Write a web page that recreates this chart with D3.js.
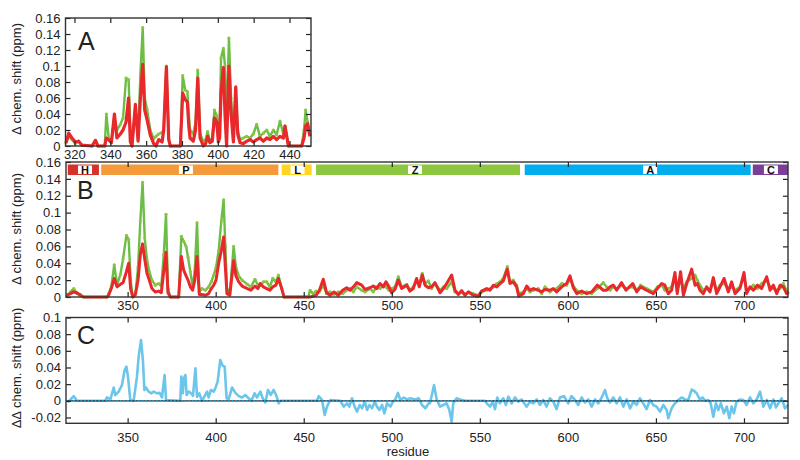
<!DOCTYPE html>
<html lang="en">
<head>
<meta charset="utf-8">
<title>Chemical shift perturbation</title>
<script src="https://cdn.jsdelivr.net/npm/d3@7"></script>
<style>
  body { margin: 0; background: #fff; }
  text { font-family: "Liberation Sans", Arial, Helvetica, sans-serif; fill: #222; }
  .axis path.domain { display: none; }
  .axis line { stroke: #222; stroke-width: 1.2; }
  .axis text { font-size: 13px; fill: #222; }
  .frame { fill: none; stroke: #333; stroke-width: 1.4; }
  .ylab { font-size: 13px; }
  .letter { font-size: 25px; }
  .dom-label { font-size: 11px; font-weight: bold; fill: #111; }
</style>
</head>
<body>
<script>

// ---------------- data ----------------

// panel A: residue, full construct (green), shorter construct (red)
var aRes = [315.3, 316.8, 318.6, 320.5, 322.3, 324.2, 329.8, 331.7, 333.1, 336.9, 337.8, 339.1, 340.6, 342.3, 343.7,
  345.6, 347.1, 348.8, 350.2, 351.2, 352.1, 354.0, 355.5, 356.8, 358.1, 359.2, 360.5, 362.3, 364.2, 365.5, 367.0,
  368.9, 369.8, 371.3, 372.6, 373.5, 379.1, 380.4, 381.8, 383.0, 383.8, 384.5, 386.3, 387.6, 388.8, 390.1, 391.9,
  393.2, 394.3, 395.6, 396.9, 398.1, 399.4, 400.3, 401.0, 401.8, 403.1, 404.0, 404.9, 406.2, 407.4, 408.7, 410.0,
  411.1, 412.4, 414.2, 416.1, 418.0, 419.8, 421.7, 423.5, 425.4, 427.3, 429.1, 431.0, 432.8, 434.7, 436.6, 437.5,
  439.4, 446.8, 448.1, 449.0, 450.1, 451.4];
var aGreen = [0.004, 0.012, 0.008, 0.003, 0.006, 0.001, 0, 0.007, 0, 0, 0.04, 0.01, 0.006, 0.035, 0.02,
  0.027, 0.035, 0.085, 0.083, 0.02, 0, 0.048, 0.01, 0.09, 0.148, 0.06, 0.046, 0.02, 0.009, 0.012, 0.015,
  0.017, 0.02, 0.1, 0.01, 0, 0, 0.088, 0.07, 0.068, 0.04, 0.02, 0.015, 0.03, 0.095, 0.015, 0.006,
  0.008, 0.018, 0.006, 0.01, 0.045, 0.038, 0.015, 0.02, 0.11, 0.122, 0.1, 0.02, 0.135, 0.06, 0.01, 0.07,
  0.02, 0.008, 0.01, 0.012, 0.01, 0.015, 0.027, 0.012, 0.016, 0.02, 0.012, 0.02, 0.014, 0.031, 0.015, 0.025,
  0, 0, 0.02, 0.045, 0.03, 0.015];
var aRed = [0.004, 0.016, 0.01, 0.005, 0.006, 0.001, 0, 0.007, 0, 0, 0.01, 0.008, 0.004, 0.04, 0.01,
  0.015, 0.02, 0.03, 0.06, 0.005, 0, 0.052, 0.006, 0.06, 0.102, 0.045, 0.033, 0.014, 0.003, 0, 0.008,
  0.005, 0.02, 0.099, 0.008, 0, 0, 0.066, 0.058, 0.055, 0.025, 0.01, 0.006, 0.02, 0.085, 0.01, 0,
  0.003, 0.012, 0.004, 0.006, 0.035, 0.03, 0.005, 0.01, 0.068, 0.098, 0.04, 0, 0.1, 0.04, 0.005, 0.074,
  0.015, 0.004, 0.003, 0.006, 0.008, 0.005, 0.008, 0.01, 0.006, 0.01, 0.008, 0.012, 0.008, 0.012, 0.01, 0.025,
  0, 0, 0.01, 0.025, 0.028, 0.012];

// panel B
var bRes = [315.4, 317.5, 319.4, 321.2, 323.1, 325.0, 338.3, 339.2, 340.7, 342.4, 344.0, 345.9, 347.4, 349.3, 350.6,
  351.7, 352.9, 354.4, 355.9, 357.2, 358.5, 359.7, 361.0, 362.3, 363.8, 365.7, 367.6, 369.1, 370.5, 371.8, 372.9,
  374.3, 379.0, 380.5, 381.8, 383.2, 384.3, 385.6, 386.9, 388.1, 389.4, 390.7, 392.2, 394.1, 396.0, 397.5, 398.9,
  400.2, 401.7, 403.2, 404.5, 405.5, 406.4, 408.0, 410.2, 411.5, 413.1, 415.0, 418.0, 420.0, 422.3, 424.0, 425.2,
  427.1, 429.0, 430.8, 432.4, 434.2, 435.6, 437.5, 438.8, 452.6, 453.6, 455.4, 457.0, 458.9, 461.1, 463.0, 464.9,
  467.2, 469.6, 472.1, 474.4, 476.3, 478.2, 480.1, 482.9, 484.8, 487.6, 489.5, 491.4, 493.3, 495.2, 496.7, 498.4,
  499.9, 501.8, 503.7, 505.6, 508.5, 510.3, 512.2, 514.1, 515.6, 517.3, 518.9, 520.8, 522.6, 524.5, 527.4, 529.3,
  531.2, 534.0, 535.9, 537.8, 539.7, 541.6, 543.5, 546.3, 549.2, 551.0, 553.9, 555.8, 557.7, 559.6, 561.5, 563.3,
  565.6, 567.1, 569.0, 570.9, 572.1, 574.7, 576.6, 578.5, 580.4, 583.2, 585.1, 587.0, 589.8, 591.7, 593.6, 596.5,
  599.3, 601.2, 603.1, 605.0, 607.8, 610.7, 613.5, 616.7, 620.1, 622.0, 623.9, 625.8, 627.7, 630.5, 633.0, 636.8,
  639.1, 641.3, 644.7, 648.5, 650.8, 653.3, 655.1, 657.0, 658.9, 660.8, 662.1, 664.0, 665.6, 667.5, 670.3, 672.2,
  673.5, 675.0, 676.9, 678.8, 680.7, 682.6, 684.5, 686.4, 688.7, 691.1, 693.0, 694.9, 697.7, 700.0, 701.5, 703.4,
  705.3, 707.6, 710.0, 712.9, 714.8, 716.7, 718.6, 720.5, 722.3, 724.2, 725.0];
var bGreen = [0.001, 0.006, 0.01, 0.004, 0.003, 0, 0, 0.004, 0.012, 0.038, 0.014, 0.027, 0.045, 0.073, 0.068,
  0.02, 0, 0.003, 0.035, 0.09, 0.136, 0.07, 0.044, 0.03, 0.02, 0.014, 0.016, 0.013, 0.05, 0.098, 0.01,
  0, 0, 0.072, 0.066, 0.06, 0.047, 0.03, 0.012, 0.03, 0.088, 0.006, 0.01, 0.008, 0.012, 0.018, 0.026,
  0.035, 0.055, 0.09, 0.115, 0.06, 0.01, 0.004, 0.06, 0.035, 0.025, 0.02, 0.015, 0.012, 0.021, 0.014, 0.014,
  0.018, 0.018, 0.012, 0.022, 0.018, 0.026, 0.01, 0, 0, 0.008, 0.004, 0.007, 0.006, 0.014, 0.004, 0.006,
  0.003, 0.006, 0.004, 0.008, 0.01, 0.006, 0.012, 0.008, 0.006, 0.01, 0.006, 0.012, 0.01, 0.014, 0.012, 0.008,
  0.01, 0.012, 0.024, 0.012, 0.015, 0.008, 0.012, 0.018, 0.015, 0.028, 0.016, 0.019, 0.01, 0.016, 0.008, 0.012,
  0.01, 0.018, 0.006, 0.004, 0.008, 0.003, 0.006, 0.004, 0.002, 0.006, 0.008, 0.01, 0.012, 0.016, 0.018, 0.022,
  0.036, 0.018, 0.02, 0.014, 0.004, 0.006, 0.01, 0.006, 0.008, 0.01, 0.004, 0.012, 0.006, 0.009, 0.01, 0.016,
  0.014, 0.021, 0.013, 0.008, 0.004, 0.006, 0.004, 0.01, 0.017, 0.012, 0.008, 0.012, 0.01, 0.014, 0.01, 0.012,
  0.008, 0.014, 0.01, 0.006, 0.012, 0.014, 0.008, 0.01, 0.012, 0.024, 0.008, 0.02, 0.01, 0.018, 0.022, 0.026,
  0.02, 0.014, 0.008, 0.01, 0.008, 0.018, 0.008, 0.014, 0.016, 0.01, 0.012, 0.008, 0.012, 0.024, 0.008, 0.01,
  0.014, 0.01, 0.016, 0.02, 0.012, 0.01, 0.008, 0.01, 0.016, 0.008, 0.005];
var bRed = [0.002, 0.004, 0.006, 0.005, 0.002, 0, 0, 0.002, 0.01, 0.022, 0.012, 0.015, 0.017, 0.03, 0.04,
  0.01, 0, 0.003, 0.02, 0.05, 0.063, 0.045, 0.028, 0.02, 0.01, 0.006, 0.007, 0.005, 0.03, 0.053, 0.005,
  0, 0, 0.048, 0.032, 0.025, 0.02, 0.012, 0.008, 0.02, 0.048, 0.003, 0.003, 0.002, 0.004, 0.01, 0.014,
  0.02, 0.04, 0.055, 0.071, 0.035, 0.004, 0.002, 0.043, 0.025, 0.018, 0.013, 0.01, 0.008, 0.013, 0.01, 0.016,
  0.012, 0.01, 0.008, 0.012, 0.014, 0.022, 0.01, 0, 0, 0, 0.001, 0.002, 0.008, 0.021, 0.005, 0.002,
  0.006, 0.002, 0.008, 0.011, 0.008, 0.012, 0.017, 0.014, 0.009, 0.011, 0.013, 0.01, 0.016, 0.012, 0.018, 0.012,
  0.005, 0.009, 0.02, 0.01, 0.014, 0.007, 0.01, 0.022, 0.012, 0.026, 0.014, 0.011, 0.012, 0.017, 0.005, 0.01,
  0.016, 0.026, 0.008, 0.003, 0.007, 0.002, 0.006, 0.002, 0.001, 0.007, 0.01, 0.008, 0.014, 0.012, 0.016, 0.019,
  0.033, 0.016, 0.018, 0.012, 0.001, 0.004, 0.013, 0.008, 0.01, 0.008, 0.006, 0.009, 0.008, 0.01, 0.006, 0.012,
  0.016, 0.025, 0.011, 0.004, 0.007, 0.004, 0.006, 0.014, 0.008, 0.008, 0.012, 0.014, 0.008, 0.017, 0.008, 0.016,
  0.006, 0.012, 0.008, 0.004, 0.01, 0.016, 0.014, 0.004, 0.008, 0.029, 0.004, 0.03, 0.002, 0.016, 0.033, 0.014,
  0.016, 0.008, 0.004, 0.012, 0.006, 0.023, 0.004, 0.012, 0.022, 0.006, 0.018, 0.004, 0.01, 0.029, 0.004, 0.012,
  0.008, 0.014, 0.01, 0.024, 0.008, 0.014, 0.004, 0.014, 0.012, 0.004, 0.006];

// panel C: difference of the two shifts
var cRes = [315.6, 316.5, 319.4, 321.2, 337.3, 338.3, 340.2, 342.1, 343.0, 344.9, 346.8, 348.3, 349.3, 350.2, 351.5,
  353.4, 355.3, 356.3, 357.6, 358.7, 359.5, 360.4, 361.9, 363.5, 364.8, 366.7, 368.2, 369.5, 371.0, 371.8, 379.9,
  380.5, 381.3, 382.0, 382.8, 383.5, 384.7, 386.0, 387.1, 388.5, 389.4, 390.7, 392.2, 393.8, 395.1, 396.0, 397.3,
  398.9, 399.8, 401.1, 402.6, 404.0, 405.1, 406.2, 407.4, 409.3, 411.2, 413.1, 415.0, 416.8, 418.7, 420.3, 422.1,
  423.5, 425.4, 426.7, 428.2, 429.7, 431.2, 432.9, 434.3, 435.8, 436.7, 457.5, 458.5, 460.4, 461.9, 463.2, 465.1,
  470.8, 472.7, 474.6, 475.9, 477.4, 478.9, 480.3, 481.8, 483.1, 484.6, 486.0, 487.3, 488.8, 490.3, 491.6, 493.0,
  494.5, 495.8, 497.3, 499.2, 500.7, 502.0, 503.5, 504.9, 506.8, 508.6, 510.5, 513.4, 515.3, 517.2, 519.1, 521.0,
  521.7, 524.0, 525.5, 527.4, 529.3, 531.1, 532.7, 534.0, 534.9, 536.8, 538.7, 541.6, 552.9, 553.9, 555.8, 557.3,
  558.6, 559.9, 561.4, 563.3, 564.8, 566.2, 568.1, 570.0, 571.8, 573.7, 576.6, 578.5, 580.4, 582.3, 584.1, 586.0,
  587.9, 589.8, 591.7, 593.6, 595.5, 597.8, 600.2, 602.1, 604.0, 605.9, 607.8, 609.7, 611.6, 613.5, 615.4, 617.3,
  619.2, 621.1, 622.4, 623.9, 625.8, 627.7, 629.6, 631.5, 633.4, 635.3, 637.2, 639.0, 640.9, 642.8, 644.7, 646.6,
  648.5, 650.4, 652.3, 654.2, 656.1, 657.0, 658.9, 660.8, 662.7, 664.6, 666.5, 668.4, 670.3, 671.6, 673.1, 675.0,
  676.5, 677.9, 679.7, 681.1, 682.6, 684.1, 685.4, 686.9, 688.6, 690.2, 691.7, 693.0, 694.3, 695.8, 697.7, 699.6,
  701.5, 703.4, 705.3, 707.2, 709.1, 711.0, 712.9, 714.8, 716.7, 718.2, 719.5, 721.4, 723.3, 725.0];
var cDelta = [0, -0.001, 0.0056, 0, 0, 0.004, 0.0016, 0.016, 0.0067, 0.011, 0.019, 0.037, 0.041, 0.029, 0.001,
  0, 0.029, 0.054, 0.073, 0.048, 0.013, 0.016, 0.011, 0.009, 0.011, 0.009, 0.0095, 0.004, 0.031, 0.001, 0,
  0.029, 0.009, 0.027, 0.031, 0.007, 0.011, 0.009, 0.006, 0.039, 0.005, 0.009, 0, 0.006, 0.011, 0.004, 0.013,
  0.011, 0.015, 0.023, 0.049, 0.042, 0.041, 0.003, 0.002, 0.016, 0.0095, 0.0056, 0.004, 0.007, 0.003, 0, 0.009,
  0.004, 0.011, 0.003, -0.002, 0.013, 0.007, 0.013, 0.007, -0.003, 0, 0, 0.0056, 0.001, -0.017, -0.007, 0.001,
  0, -0.007, -0.003, -0.007, 0.003, -0.007, -0.013, -0.005, -0.009, -0.001, -0.011, -0.005, -0.009, -0.001, -0.007, -0.011,
  -0.005, -0.015, -0.003, -0.007, -0.001, 0.0016, 0.0095, 0.001, 0.004, 0.0016, 0.003, 0.0016, 0.003, -0.005, -0.009, -0.003,
  -0.003, 0.019, 0.0016, -0.007, -0.005, -0.003, -0.011, -0.025, -0.003, 0.003, 0.0016, 0, 0, -0.003, -0.007, -0.001,
  -0.01, 0.004, -0.003, 0.003, -0.005, 0.005, -0.003, 0.004, -0.001, 0.0016, -0.007, -0.001, -0.003, 0.0016, -0.005, 0.001,
  -0.007, 0.003, -0.001, -0.01, 0.004, 0.0056, -0.003, 0.0056, 0.001, -0.005, 0.004, -0.002, 0.0016, -0.007, 0.0016, -0.003,
  0.004, 0.013, 0.003, -0.002, 0.004, -0.003, 0.004, -0.007, 0.0016, -0.009, -0.001, -0.005, 0.003, -0.003, -0.01, 0.001,
  -0.005, -0.007, -0.013, -0.005, -0.011, -0.021, -0.009, -0.003, 0.001, 0.004, 0.0016, 0.001, 0.0135, 0.012, 0.009, 0.0016,
  0.004, 0, 0.001, -0.003, -0.019, -0.003, -0.011, -0.003, -0.015, -0.007, -0.021, -0.007, -0.015, -0.001, 0.0016, 0.001,
  -0.005, 0.004, -0.003, 0.0016, 0.011, -0.007, 0.001, -0.009, 0.0016, -0.008, -0.003, 0.003, -0.009, -0.005];

// tick values
var aXTicks = [320, 340, 360, 380, 400, 420, 440];
var bXTicks = [350, 400, 450, 500, 550, 600, 650, 700];
var abYTicks = [0, 0.02, 0.04, 0.06, 0.08, 0.1, 0.12, 0.14, 0.16];
var cYTicks = [-0.02, 0, 0.02, 0.04, 0.06, 0.08, 0.1];

// domain bar on top of panel B
var domNames = ["H", "P", "L", "Z", "A", "C"];
var domStart = [316, 335, 437.5, 457, 575.5, 705];
var domEnd = [333.7, 435.6, 454.5, 572.8, 703.8, 725];
var domLabelAt = [325.8, 383.1, 446.5, 513.2, 646.7, 715.3];
var domColors = ["#d7312b", "#f59a3b", "#ffd51f", "#8dc63f", "#00aeef", "#7b3f98"];

var green = "#6cbd45", red = "#e8282b", blue = "#6cc5ea";

// ---------------- drawing ----------------

var svg = d3.select("body").append("svg")
  .attr("width", 800)
  .attr("height", 460);

var yFmt = function(d) { return d3.format(".2~f")(d).replace("\u2212", "-"); };

// scales
var xA = d3.scaleLinear().domain([315, 452]).range([65.5, 311]);
var yA = d3.scaleLinear().domain([0, 0.16]).range([146, 18]);
var xB = d3.scaleLinear().domain([315, 725]).range([66, 788]);
var yB = d3.scaleLinear().domain([0, 0.16]).range([297, 162]);
var yC = d3.scaleLinear().domain([-0.027, 0.1]).range([423.3, 317.5]);

// box with inward ticks on all four sides, labels bottom and left
function frame(g, x, y, xTicks, yTicks, xPad) {
  var left = x.range()[0], right = x.range()[1], top = y.range()[1], bottom = y.range()[0];

  g.append("g").attr("class", "axis")
    .attr("transform", "translate(0," + bottom + ")")
    .call(d3.axisBottom(x).tickValues(xTicks).tickSizeInner(-5).tickSizeOuter(0).tickPadding(xPad).tickFormat(d3.format("d")));
  g.append("g").attr("class", "axis")
    .attr("transform", "translate(0," + top + ")")
    .call(d3.axisTop(x).tickValues(xTicks).tickSizeInner(-5).tickSizeOuter(0).tickFormat(""));
  g.append("g").attr("class", "axis")
    .attr("transform", "translate(" + left + ",0)")
    .call(d3.axisLeft(y).tickValues(yTicks).tickSizeInner(-5).tickSizeOuter(0).tickPadding(5).tickFormat(yFmt));
  g.append("g").attr("class", "axis")
    .attr("transform", "translate(" + right + ",0)")
    .call(d3.axisRight(y).tickValues(yTicks).tickSizeInner(-5).tickSizeOuter(0).tickFormat(""));

  g.append("rect").attr("class", "frame")
    .attr("x", left).attr("y", top)
    .attr("width", right - left).attr("height", bottom - top);
}

function series(g, x, y, res, vals, color, width, dots) {
  var pts = d3.zip(res, vals);
  var line = d3.line()
    .x(function(d) { return x(d[0]); })
    .y(function(d) { return y(d[1]); });
  g.append("path")
    .attr("d", line(pts))
    .attr("fill", "none")
    .attr("stroke", color)
    .attr("stroke-width", width)
    .attr("stroke-linejoin", "round");
  if (dots) {
    g.selectAll(null).data(pts).enter().append("circle")
      .attr("cx", function(d) { return x(d[0]); })
      .attr("cy", function(d) { return y(d[1]); })
      .attr("r", 1.6)
      .attr("fill", dots);
  }
}

function yLabel(text, cy) {
  svg.append("text")
    .attr("class", "ylab")
    .attr("transform", "translate(21," + cy + ") rotate(-90)")
    .attr("text-anchor", "middle")
    .text(text);
}

function letter(t, x, y) {
  svg.append("text").attr("class", "letter").attr("x", x).attr("y", y).text(t);
}

// ---- panel A ----
var gA = svg.append("g");
series(gA, xA, yA, aRes, aGreen, green, 2.4, "#8cc63e");
series(gA, xA, yA, aRes, aRed, red, 3.2, null);
frame(gA, xA, yA, aXTicks, abYTicks, 4);
letter("A", 78, 50);
yLabel("\u0394 chem. shift (ppm)", 79);

// ---- panel B ----
var gB = svg.append("g");
// domain bar
var bar = gB.append("g");
bar.selectAll("rect.seg").data(domNames).enter().append("rect")
  .attr("class", "seg")
  .attr("x", function(d, i) { return xB(domStart[i]); })
  .attr("y", 164.5)
  .attr("width", function(d, i) { return xB(domEnd[i]) - xB(domStart[i]); })
  .attr("height", 10.5)
  .attr("fill", function(d, i) { return domColors[i]; });
bar.selectAll("rect.lab").data(domNames).enter().append("rect")
  .attr("class", "lab")
  .attr("x", function(d, i) { return xB(domLabelAt[i]) - 7; })
  .attr("y", 165.5)
  .attr("width", 14)
  .attr("height", 8.5)
  .attr("fill", "#fff");
bar.selectAll("text").data(domNames).enter().append("text")
  .attr("class", "dom-label")
  .attr("x", function(d, i) { return xB(domLabelAt[i]); })
  .attr("y", 173.5)
  .attr("text-anchor", "middle")
  .text(function(d) { return d; });

series(gB, xB, yB, bRes, bGreen, green, 2.4, "#8cc63e");
series(gB, xB, yB, bRes, bRed, red, 3, null);
frame(gB, xB, yB, bXTicks, abYTicks, 4);
letter("B", 77, 199);
yLabel("\u0394 chem. shift (ppm)", 229);

// ---- panel C ----
var gC = svg.append("g");
series(gC, xB, yC, cRes, cDelta, blue, 2.6, null);
// zero line: black with blue dots
gC.append("line")
  .attr("x1", xB(315)).attr("x2", xB(725))
  .attr("y1", yC(0)).attr("y2", yC(0))
  .attr("stroke", "#222").attr("stroke-width", 1.2);
gC.append("line")
  .attr("x1", xB(315)).attr("x2", xB(725))
  .attr("y1", yC(0)).attr("y2", yC(0))
  .attr("stroke", "#2a9fd6").attr("stroke-width", 1.8)
  .attr("stroke-dasharray", "1.6,2");
frame(gC, xB, yC, bXTicks, cYTicks, 9);
letter("C", 77, 344);
yLabel("\u0394\u0394 chem. shift (ppm)", 368);

svg.append("text")
  .attr("x", 408).attr("y", 455.5)
  .attr("text-anchor", "middle")
  .attr("font-size", "13px")
  .text("residue");

</script>
</body>
</html>
